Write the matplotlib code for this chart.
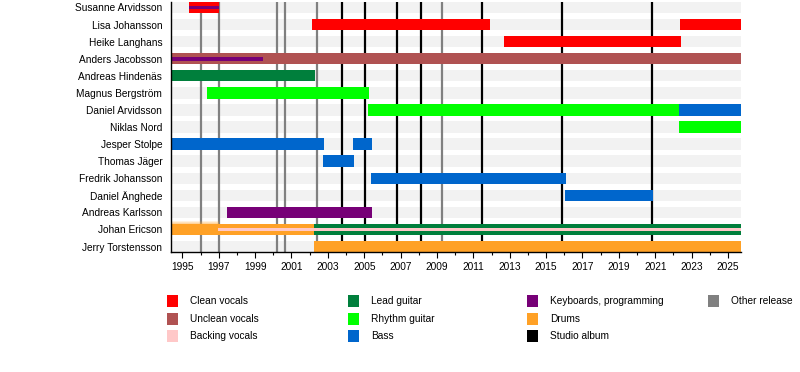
import matplotlib
matplotlib.use("Agg")
import matplotlib.pyplot as plt
from matplotlib.patches import Rectangle

plt.rcParams['font.family'] = ['Liberation Sans', 'DejaVu Sans']

# ---------------- data ----------------
members = ["Susanne Arvidsson", "Lisa Johansson", "Heike Langhans", "Anders Jacobsson",
           "Andreas Hindenäs", "Magnus Bergström", "Daniel Arvidsson", "Niklas Nord",
           "Jesper Stolpe", "Thomas Jäger", "Fredrik Johansson", "Daniel Änghede",
           "Andreas Karlsson", "Johan Ericson", "Jerry Torstensson"]

START, END = 1994.36, 2025.70

bar_member = ["Susanne Arvidsson", "Lisa Johansson", "Lisa Johansson", "Heike Langhans",
              "Anders Jacobsson", "Andreas Hindenäs", "Magnus Bergström", "Daniel Arvidsson",
              "Daniel Arvidsson", "Niklas Nord", "Jesper Stolpe", "Jesper Stolpe",
              "Thomas Jäger", "Fredrik Johansson", "Daniel Änghede", "Andreas Karlsson",
              "Johan Ericson", "Johan Ericson", "Jerry Torstensson"]
bar_start = [1995.38, 2002.13, 2022.36, 2012.69,
             START, START, 1996.34, 2005.22,
             2022.29, 2022.29, START, 2004.40,
             2002.74, 2005.38, 2016.04, 1997.46,
             START, 2002.24, 2002.26]
bar_end = [1997.02, 2011.92, END, 2022.42,
           END, 2002.30, 2005.27, 2022.29,
           END, END, 2002.79, 2005.43,
           2004.44, 2016.09, 2020.88, 2005.43,
           2002.24, END, END]
bar_role = ["Clean vocals", "Clean vocals", "Clean vocals", "Clean vocals",
            "Unclean vocals", "Lead guitar", "Rhythm guitar", "Rhythm guitar",
            "Bass", "Rhythm guitar", "Bass", "Bass",
            "Bass", "Bass", "Bass", "Keyboards, programming",
            "Drums", "Lead guitar", "Drums"]

thin_member = ["Susanne Arvidsson", "Anders Jacobsson", "Johan Ericson"]
thin_start = [1995.38, START, 1996.98]
thin_end = [1997.02, 1999.42, END]
thin_role = ["Keyboards, programming", "Keyboards, programming", "Backing vocals"]

studio_albums = [2003.80, 2005.06, 2006.79, 2008.14, 2011.49, 2015.86, 2020.84]
other_releases = [1996.04, 1997.03, 2000.22, 2000.66, 2002.42, 2009.29]

roles = ["Clean vocals", "Unclean vocals", "Backing vocals",
         "Lead guitar", "Rhythm guitar", "Bass",
         "Keyboards, programming", "Drums", "Studio album",
         "Other release"]
role_colors = {
    "Clean vocals": "#ff0000",
    "Unclean vocals": "#b05252",
    "Backing vocals": "#ffc8c8",
    "Lead guitar": "#007f3c",
    "Rhythm guitar": "#00ff00",
    "Bass": "#0066cc",
    "Keyboards, programming": "#770077",
    "Drums": "#ffa126",
    "Studio album": "#000000",
    "Other release": "#808080",
}

# ---------------- figure ----------------
fig = plt.figure(figsize=(8.0, 3.72), dpi=100)
ax = fig.add_axes([170.7 / 800, (372 - 252.3) / 372, 570.0 / 800, 250.6 / 372])

H = 0.67
row = {m: i for i, m in enumerate(members)}

# background stripes
ax.barh(range(len(members)), END - START, left=START, height=H,
        color="#f2f2f2", zorder=1, linewidth=0)

# release lines
for x in other_releases:
    ax.axvline(x, color=role_colors["Other release"], lw=1.6, zorder=2)
for x in studio_albums:
    ax.axvline(x, color=role_colors["Studio album"], lw=1.6, zorder=2)

# main bars
for m, s, e, r in zip(bar_member, bar_start, bar_end, bar_role):
    ax.barh(row[m], e - s, left=s, height=H, color=role_colors[r], zorder=3, linewidth=0)

# faded top on first drums segment
j = row["Johan Ericson"]
for k, a in enumerate([0.15, 0.3, 0.45]):
    ax.barh(j - H / 2 - 0.12 + k * 0.04, 1997.0 - START, left=START, height=0.05,
            color=role_colors["Drums"], alpha=a, zorder=3, linewidth=0)

# thin overlay bars
for m, s, e, r in zip(thin_member, thin_start, thin_end, thin_role):
    ax.barh(row[m], e - s, left=s, height=0.22, color=role_colors[r], zorder=4, linewidth=0)

ax.set_xlim(START, END)
ax.set_ylim(len(members) - 1 + H / 2, -H / 2)
ax.set_yticks(range(len(members)))
ax.set_yticklabels(members, fontsize=7.3)
ax.tick_params(axis="y", length=0, pad=6)
ax.set_xticks(range(1995, 2026, 2))
ax.set_xticks(range(1995, 2026), minor=True)
ax.tick_params(axis="x", which="major", length=4.3, width=0.8, labelsize=7.3, pad=3)
ax.tick_params(axis="x", which="minor", length=2.2, width=0.8)
for sp in ["top", "right"]:
    ax.spines[sp].set_visible(False)
for sp in ["left", "bottom"]:
    ax.spines[sp].set_linewidth(1.0)
    ax.spines[sp].set_zorder(5)

# ---------------- legend ----------------
col_x = [167, 348, 527, 708]
row_y = [301, 318.5, 336]
legend_cols = [["Clean vocals", "Unclean vocals", "Backing vocals"],
               ["Lead guitar", "Rhythm guitar", "Bass"],
               ["Keyboards, programming", "Drums", "Studio album"],
               ["Other release"]]
for ci, col in enumerate(legend_cols):
    for ri, name in enumerate(col):
        x0 = col_x[ci]
        yc = row_y[ri]
        fig.patches.append(Rectangle((x0 / 800, (372 - yc - 6) / 372), 11 / 800, 12 / 372,
                                     transform=fig.transFigure, color=role_colors[name],
                                     linewidth=0))
        fig.text((x0 + 23) / 800, (372 - yc) / 372, name, fontsize=7.3,
                 va="center", ha="left")

fig.savefig("out.png", dpi=100)
